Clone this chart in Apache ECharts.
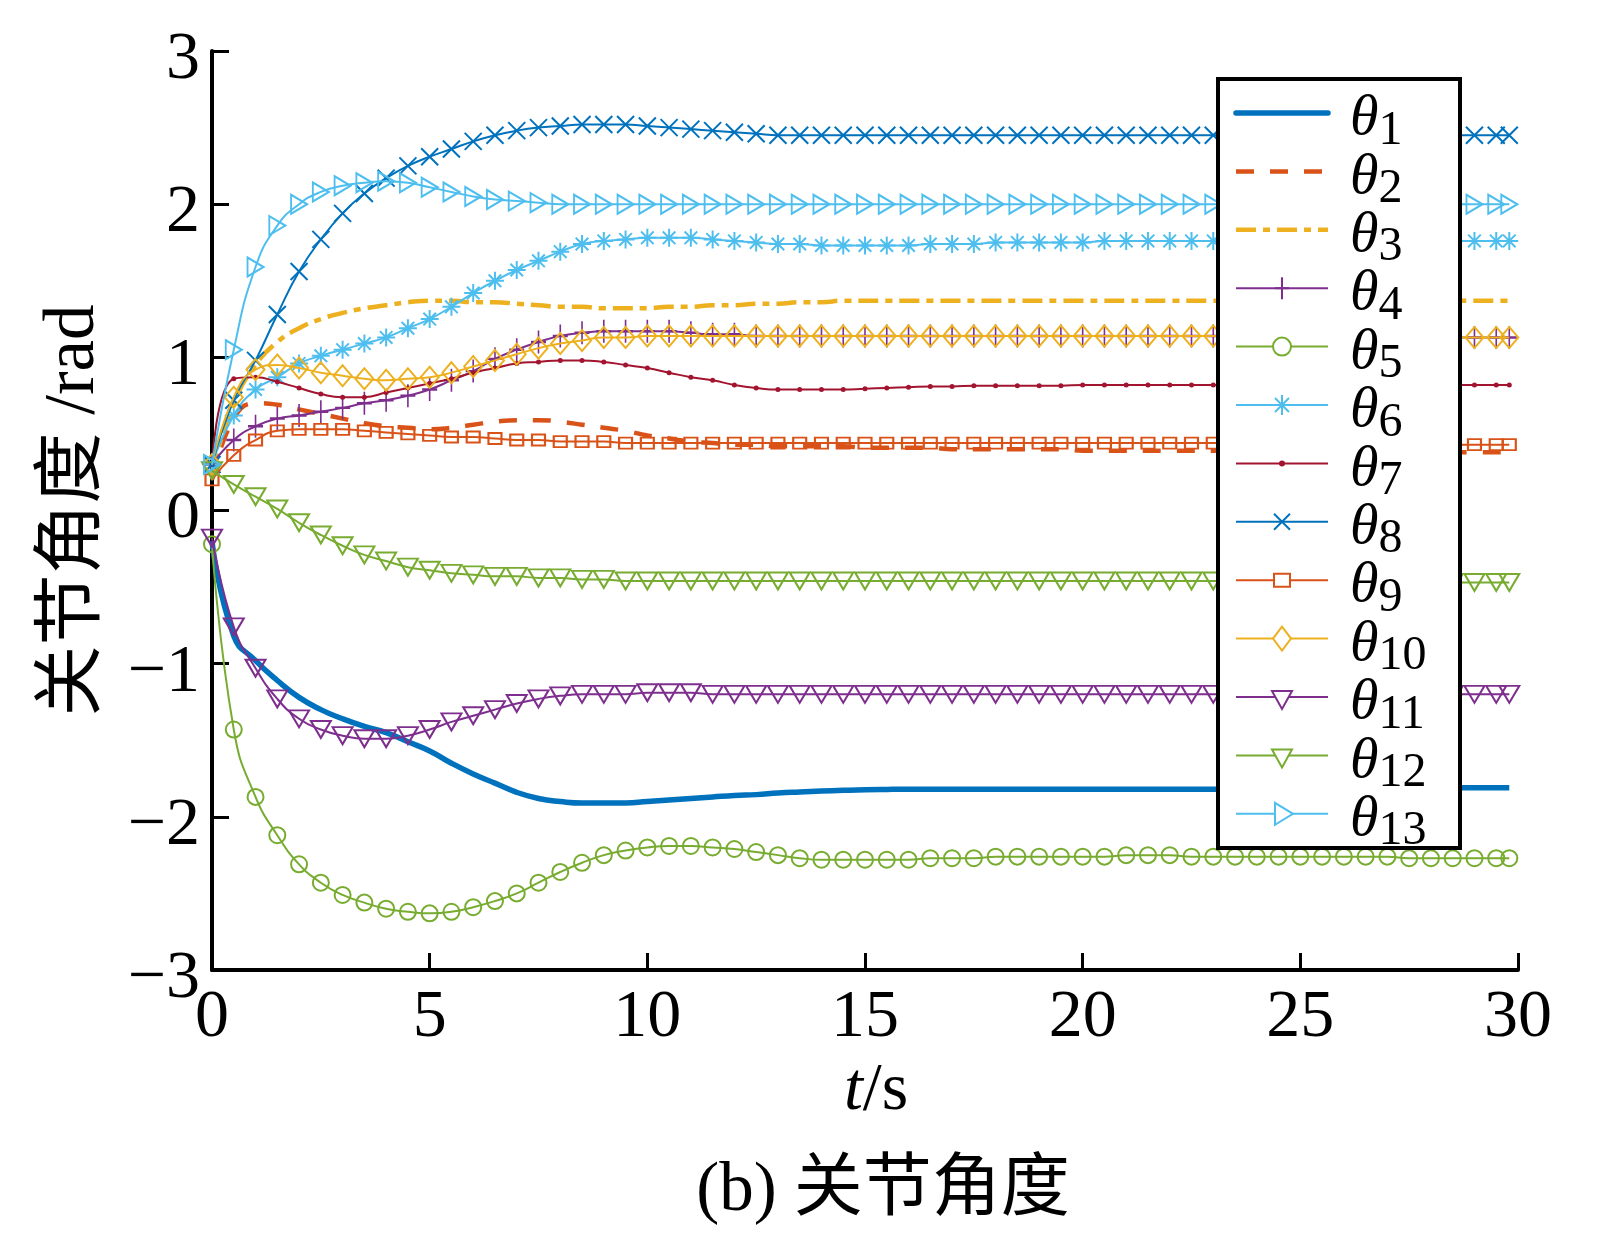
<!DOCTYPE html>
<html>
<head>
<meta charset="utf-8">
<title>关节角度</title>
<script src="https://cdn.jsdelivr.net/npm/echarts@6/dist/echarts.min.js"></script>
<style>
  html, body { margin: 0; padding: 0; background: #fff; }
  #chart { width: 1602px; height: 1236px; }
</style>
</head>
<body>
<div id="chart"></div>
<script>
// --- Data (t in s, angles in rad) ---
const timeS = [
  0, 0.5, 1, 1.5, 2, 2.5, 3, 3.5, 4, 4.5,
  5, 5.5, 6, 6.5, 7, 7.5, 8, 8.5, 9, 9.5,
  10, 10.5, 11, 11.5, 12, 12.5, 13, 13.5, 14, 14.5,
  15, 15.5, 16, 16.5, 17, 17.5, 18, 18.5, 19, 19.5,
  20, 20.5, 21, 21.5, 22, 22.5, 23, 23.5, 24, 24.5,
  25, 25.5, 26, 26.5, 27, 27.5, 28, 28.5, 29, 29.5,
  29.8
];

const theta1 = [
  -0.20, -0.82, -0.98, -1.11, -1.22, -1.30, -1.36, -1.41, -1.45, -1.51,
  -1.57, -1.65, -1.72, -1.78, -1.84, -1.88, -1.90, -1.91, -1.91, -1.91,
  -1.90, -1.89, -1.88, -1.87, -1.86, -1.855, -1.845, -1.838, -1.832, -1.827,
  -1.823, -1.821, -1.82, -1.82, -1.82, -1.82, -1.82, -1.82, -1.82, -1.82,
  -1.82, -1.82, -1.82, -1.82, -1.82, -1.82, -1.82, -1.82, -1.815, -1.815,
  -1.81, -1.81, -1.81, -1.81, -1.81, -1.81, -1.81, -1.81, -1.81, -1.81,
  -1.81
];
const theta2 = [
  0.20, 0.60, 0.70, 0.69, 0.66, 0.63, 0.60, 0.57, 0.55, 0.54,
  0.53, 0.54, 0.56, 0.58, 0.59, 0.59, 0.58, 0.56, 0.54, 0.52,
  0.49, 0.47, 0.45, 0.44, 0.43, 0.43, 0.42, 0.42, 0.42, 0.42,
  0.41, 0.41, 0.41, 0.41, 0.40, 0.40, 0.40, 0.40, 0.40, 0.40,
  0.39, 0.39, 0.39, 0.39, 0.39, 0.39, 0.39, 0.39, 0.39, 0.39,
  0.38, 0.38, 0.38, 0.38, 0.38, 0.38, 0.38, 0.38, 0.38, 0.38,
  0.38
];
const theta3 = [
  0.25, 0.70, 0.95, 1.10, 1.19, 1.25, 1.29, 1.32, 1.34, 1.36,
  1.37, 1.37, 1.36, 1.36, 1.35, 1.34, 1.33, 1.33, 1.32, 1.32,
  1.32, 1.33, 1.33, 1.34, 1.34, 1.35, 1.35, 1.36, 1.36, 1.37,
  1.37, 1.37, 1.37, 1.37, 1.37, 1.37, 1.37, 1.37, 1.37, 1.37,
  1.37, 1.37, 1.37, 1.37, 1.37, 1.37, 1.37, 1.37, 1.37, 1.37,
  1.37, 1.37, 1.37, 1.37, 1.37, 1.37, 1.37, 1.37, 1.37, 1.37,
  1.37
];
const theta4 = [
  0.30, 0.46, 0.55, 0.60, 0.62, 0.645, 0.67, 0.70, 0.72, 0.75,
  0.79, 0.85, 0.91, 0.99, 1.05, 1.10, 1.14, 1.16, 1.17, 1.17,
  1.17, 1.17, 1.16, 1.15, 1.15, 1.14, 1.14, 1.14, 1.14, 1.14,
  1.14, 1.14, 1.14, 1.14, 1.14, 1.14, 1.14, 1.14, 1.14, 1.14,
  1.14, 1.14, 1.14, 1.14, 1.14, 1.14, 1.14, 1.14, 1.14, 1.14,
  1.13, 1.13, 1.13, 1.13, 1.13, 1.13, 1.13, 1.13, 1.13, 1.13,
  1.13
];
const theta5 = [
  -0.22, -1.43, -1.87, -2.12, -2.31, -2.43, -2.51, -2.56, -2.60, -2.62,
  -2.63, -2.62, -2.59, -2.55, -2.50, -2.43, -2.36, -2.30, -2.25, -2.22,
  -2.20, -2.19, -2.19, -2.20, -2.21, -2.23, -2.25, -2.27, -2.28, -2.28,
  -2.28, -2.28, -2.28, -2.27, -2.27, -2.27, -2.26, -2.26, -2.26, -2.26,
  -2.26, -2.26, -2.25, -2.25, -2.25, -2.26, -2.26, -2.26, -2.26, -2.26,
  -2.26, -2.26, -2.26, -2.26, -2.26, -2.27, -2.27, -2.27, -2.27, -2.27,
  -2.27
];
const theta6 = [
  0.30, 0.62, 0.79, 0.87, 0.96, 1.01, 1.05, 1.09, 1.13, 1.19,
  1.25, 1.33, 1.42, 1.50, 1.57, 1.63, 1.69, 1.74, 1.76, 1.77,
  1.78, 1.78, 1.78, 1.77, 1.76, 1.75, 1.74, 1.74, 1.73, 1.73,
  1.73, 1.73, 1.73, 1.74, 1.74, 1.74, 1.75, 1.75, 1.75, 1.75,
  1.75, 1.76, 1.76, 1.76, 1.76, 1.76, 1.76, 1.76, 1.76, 1.76,
  1.76, 1.76, 1.76, 1.76, 1.76, 1.76, 1.76, 1.76, 1.76, 1.76,
  1.76
];
const theta7 = [
  0.30, 0.86, 0.87, 0.84, 0.80, 0.76, 0.74, 0.74, 0.77, 0.80,
  0.83, 0.86, 0.90, 0.93, 0.96, 0.97, 0.98, 0.98, 0.97, 0.95,
  0.93, 0.90, 0.87, 0.85, 0.82, 0.80, 0.79, 0.79, 0.79, 0.79,
  0.795, 0.80, 0.805, 0.81, 0.81, 0.815, 0.815, 0.815, 0.815, 0.815,
  0.82, 0.82, 0.82, 0.82, 0.82, 0.82, 0.82, 0.82, 0.82, 0.82,
  0.82, 0.82, 0.82, 0.82, 0.82, 0.82, 0.82, 0.82, 0.82, 0.82,
  0.82
];
const theta8 = [
  0.30, 0.72, 0.98, 1.28, 1.56, 1.77, 1.94, 2.07, 2.17, 2.25,
  2.31, 2.36, 2.41, 2.45, 2.48, 2.50, 2.51, 2.52, 2.52, 2.52,
  2.51, 2.50, 2.49, 2.48, 2.47, 2.46, 2.45, 2.45, 2.45, 2.45,
  2.45, 2.45, 2.45, 2.45, 2.45, 2.45, 2.45, 2.45, 2.45, 2.45,
  2.45, 2.45, 2.45, 2.45, 2.45, 2.45, 2.45, 2.45, 2.45, 2.45,
  2.45, 2.45, 2.45, 2.45, 2.45, 2.45, 2.45, 2.45, 2.45, 2.45,
  2.45
];
const theta9 = [
  0.20, 0.36, 0.46, 0.52, 0.53, 0.53, 0.53, 0.52, 0.51, 0.50,
  0.49, 0.48, 0.48, 0.47, 0.46, 0.46, 0.45, 0.45, 0.45, 0.44,
  0.44, 0.44, 0.44, 0.44, 0.44, 0.44, 0.44, 0.44, 0.44, 0.44,
  0.44, 0.44, 0.44, 0.44, 0.44, 0.44, 0.44, 0.44, 0.44, 0.44,
  0.44, 0.44, 0.44, 0.44, 0.44, 0.44, 0.44, 0.44, 0.44, 0.44,
  0.43, 0.43, 0.43, 0.43, 0.43, 0.43, 0.43, 0.43, 0.43, 0.43,
  0.43
];
const theta10 = [
  0.30, 0.74, 0.92, 0.95, 0.93, 0.90, 0.88, 0.86, 0.85, 0.86,
  0.87, 0.90, 0.94, 0.98, 1.02, 1.06, 1.09, 1.11, 1.13, 1.13,
  1.14, 1.14, 1.14, 1.14, 1.14, 1.14, 1.14, 1.14, 1.14, 1.14,
  1.14, 1.14, 1.14, 1.14, 1.14, 1.14, 1.14, 1.14, 1.14, 1.14,
  1.14, 1.14, 1.14, 1.14, 1.14, 1.14, 1.14, 1.14, 1.14, 1.14,
  1.13, 1.13, 1.13, 1.13, 1.13, 1.13, 1.13, 1.13, 1.13, 1.13,
  1.13
];
const theta11 = [
  -0.18, -0.76, -1.03, -1.23, -1.36, -1.43, -1.47, -1.49, -1.49, -1.47,
  -1.43, -1.38, -1.34, -1.30, -1.26, -1.23, -1.21, -1.20, -1.20, -1.20,
  -1.19, -1.19, -1.19, -1.20, -1.20, -1.20, -1.20, -1.20, -1.20, -1.20,
  -1.20, -1.20, -1.20, -1.20, -1.20, -1.20, -1.20, -1.20, -1.20, -1.20,
  -1.20, -1.20, -1.20, -1.20, -1.20, -1.20, -1.20, -1.20, -1.20, -1.20,
  -1.20, -1.20, -1.20, -1.20, -1.20, -1.20, -1.20, -1.20, -1.20, -1.20,
  -1.20
];
const theta12 = [
  0.26, 0.17, 0.09, 0.01, -0.08, -0.16, -0.23, -0.29, -0.33, -0.37,
  -0.39, -0.41, -0.42, -0.43, -0.43, -0.44, -0.44, -0.45, -0.45, -0.46,
  -0.46, -0.46, -0.46, -0.46, -0.46, -0.46, -0.46, -0.46, -0.46, -0.46,
  -0.46, -0.46, -0.46, -0.46, -0.46, -0.46, -0.46, -0.46, -0.46, -0.46,
  -0.46, -0.46, -0.46, -0.46, -0.46, -0.46, -0.46, -0.46, -0.46, -0.46,
  -0.47, -0.47, -0.47, -0.47, -0.47, -0.47, -0.47, -0.47, -0.47, -0.47,
  -0.47
];
const theta13 = [
  0.30, 1.05, 1.59, 1.86, 2.00, 2.08, 2.12, 2.14, 2.15, 2.14,
  2.11, 2.08, 2.05, 2.03, 2.02, 2.01, 2.00, 2.00, 2.00, 2.00,
  2.00, 2.00, 2.00, 2.00, 2.00, 2.00, 2.00, 2.00, 2.00, 2.00,
  2.00, 2.00, 2.00, 2.00, 2.00, 2.00, 2.00, 2.00, 2.00, 2.00,
  2.00, 2.00, 2.00, 2.00, 2.00, 2.00, 2.00, 2.00, 2.00, 2.00,
  2.00, 2.00, 2.00, 2.00, 2.00, 2.00, 2.00, 2.00, 2.00, 2.00,
  2.00
];

const yTicks = [-3, -2, -1, 0, 1, 2, 3];
const xTicks = [0, 5, 10, 15, 20, 25, 30];

// --- Styles (MATLAB default palette) ---
const C = {
  blue: '#0072BD', orange: '#D95319', yellow: '#EDB120', purple: '#7E2F8E',
  green: '#77AC30', cyan: '#4DBEEE', red: '#A2142F'
};
const SYM = {
  plus: 'path://M5,0L5,10M0,5L10,5',
  cross: 'path://M0,0L10,10M10,0L0,10',
  star: 'path://M5,0L5,10M0,5L10,5M1.5,1.5L8.5,8.5M8.5,1.5L1.5,8.5',
  triDown: 'path://M0,0L10,0L5,8.66Z',
  triRight: 'path://M0,0L8.66,5L0,10Z'
};

const seriesDefs = [
  { n: 1, data: theta1, color: C.blue, width: 5.5 },
  { n: 2, data: theta2, color: C.orange, width: 4.5, dash: [18, 16] },
  { n: 3, data: theta3, color: C.yellow, width: 4.5, dash: [20, 7, 7, 7] },
  { n: 4, data: theta4, color: C.purple, sym: SYM.plus, size: [15, 23], icon: 'plus' },
  { n: 5, data: theta5, color: C.green, sym: 'circle', size: 16, icon: 'circle' },
  { n: 6, data: theta6, color: C.cyan, sym: SYM.star, size: 18, icon: 'star' },
  { n: 7, data: theta7, color: C.red, sym: 'circle', size: 5, filled: true, icon: 'dot' },
  { n: 8, data: theta8, color: C.blue, sym: SYM.cross, size: 17, icon: 'cross' },
  { n: 9, data: theta9, color: C.orange, sym: 'rect', size: [13, 11], icon: 'square' },
  { n: 10, data: theta10, color: C.yellow, sym: 'diamond', size: [18, 21], icon: 'diamond' },
  { n: 11, data: theta11, color: C.purple, sym: SYM.triDown, size: [20, 17], icon: 'triDown' },
  { n: 12, data: theta12, color: C.green, sym: SYM.triDown, size: [20, 17], icon: 'triDown' },
  { n: 13, data: theta13, color: C.cyan, sym: SYM.triRight, size: [16, 19], icon: 'triRight' }
];

const series = seriesDefs.map(d => {
  const s = {
    name: 'θ' + d.n,
    type: 'line',
    data: timeS.map((t, i) => [t, d.data[i]]),
    smooth: 0.5,
    lineStyle: { color: d.color, width: d.width || 2, type: d.dash || 'solid' },
    emphasis: { disabled: true },
    z: 2 + d.n * 0.01
  };
  if (d.sym) {
    s.symbol = d.sym;
    s.symbolSize = d.size;
    s.showSymbol = true;
    s.itemStyle = d.filled
      ? { color: d.color, borderWidth: 0 }
      : { color: 'transparent', borderColor: d.color, borderWidth: 2 };
  } else {
    s.showSymbol = false;
    s.symbol = 'none';
  }
  return s;
});

// --- Legend box (drawn by hand so each entry shows line + marker) ---
const LEG = { x0: 1218, y0: 79, x1: 1460, y1: 848, first: 113, step: 58.4, lx0: 1236, lx1: 1328, tx: 1350 };

function iconShapes(kind, color, cx, cy) {
  const st = { stroke: color, lineWidth: 2, fill: 'none' };
  const ln = (x1, y1, x2, y2) => ({ type: 'line', shape: { x1, y1, x2, y2 }, style: st, z: 102 });
  switch (kind) {
    case 'plus': return [ln(cx, cy - 11, cx, cy + 11), ln(cx - 7, cy, cx + 7, cy)];
    case 'circle': return [{ type: 'circle', shape: { cx, cy, r: 9 }, style: { stroke: color, lineWidth: 2, fill: '#fff' }, z: 102 }];
    case 'star': return [ln(cx, cy - 10, cx, cy + 10), ln(cx - 9, cy, cx + 9, cy), ln(cx - 7, cy - 7, cx + 7, cy + 7), ln(cx + 7, cy - 7, cx - 7, cy + 7)];
    case 'dot': return [{ type: 'circle', shape: { cx, cy, r: 3 }, style: { fill: color }, z: 102 }];
    case 'cross': return [ln(cx - 8, cy - 8, cx + 8, cy + 8), ln(cx + 8, cy - 8, cx - 8, cy + 8)];
    case 'square': return [{ type: 'rect', shape: { x: cx - 8, y: cy - 6.5, width: 16, height: 13 }, style: { stroke: color, lineWidth: 2, fill: '#fff' }, z: 102 }];
    case 'diamond': return [{ type: 'polygon', shape: { points: [[cx, cy - 12], [cx + 9, cy], [cx, cy + 12], [cx - 9, cy]] }, style: { stroke: color, lineWidth: 2, fill: '#fff' }, z: 102 }];
    case 'triDown': return [{ type: 'polygon', shape: { points: [[cx - 10, cy - 6], [cx + 10, cy - 6], [cx, cy + 12]] }, style: { stroke: color, lineWidth: 2, fill: '#fff' }, z: 102 }];
    case 'triRight': return [{ type: 'polygon', shape: { points: [[cx - 7, cy - 11], [cx + 11, cy], [cx - 7, cy + 11]] }, style: { stroke: color, lineWidth: 2, fill: '#fff' }, z: 102 }];
    default: return [];
  }
}

const legendEls = [{
  type: 'rect',
  shape: { x: LEG.x0, y: LEG.y0, width: LEG.x1 - LEG.x0, height: LEG.y1 - LEG.y0 },
  style: { fill: '#fff', stroke: '#000', lineWidth: 4 },
  z: 100
}];
seriesDefs.forEach((d, i) => {
  const cy = LEG.first + LEG.step * i;
  const cx = (LEG.lx0 + LEG.lx1) / 2;
  legendEls.push({
    type: 'line',
    shape: { x1: LEG.lx0, y1: cy, x2: LEG.lx1, y2: cy },
    style: { stroke: d.color, lineWidth: d.width || 2, lineDash: d.dash || null, lineCap: d.n === 1 ? 'round' : 'butt' },
    z: 101
  });
  iconShapes(d.icon, d.color, cx, cy).forEach(e => legendEls.push(e));
  legendEls.push({
    type: 'text',
    x: LEG.tx,
    y: cy + 6,
    z: 103,
    style: {
      text: '{a|θ}{b|' + d.n + '}',
      verticalAlign: 'middle',
      align: 'left',
      fill: '#000',
      rich: {
        a: { fontFamily: 'Liberation Serif', fontStyle: 'italic', fontSize: 58, fill: '#000' },
        b: { fontFamily: 'Liberation Serif', fontSize: 48, fill: '#000', padding: [24, 0, 0, 0] }
      }
    }
  });
});

const serifCJK = "'Liberation Serif', 'Noto Sans CJK SC', serif";

const chart = echarts.init(document.getElementById('chart'), null, { renderer: 'canvas' });
chart.setOption({
  animation: false,
  backgroundColor: '#fff',
  title: {
    text: '(b) 关节角度',
    left: 878,
    top: 1152,
    textAlign: 'center',
    textStyle: { fontFamily: serifCJK, fontSize: 69, fontWeight: 'normal', color: '#000' }
  },
  grid: { left: 212, right: 84, top: 51, bottom: 266, containLabel: false },
  xAxis: {
    type: 'value',
    min: xTicks[0],
    max: xTicks[xTicks.length - 1],
    interval: 5,
    name: '{i|t}/s',
    nameLocation: 'middle',
    nameGap: 82,
    nameTextStyle: {
      fontFamily: 'Liberation Serif', fontSize: 68, color: '#000',
      padding: [0, 0, 0, 22],
      rich: { i: { fontFamily: 'Liberation Serif', fontStyle: 'italic', fontSize: 68, color: '#000' } }
    },
    axisLine: { show: true, onZero: false, lineStyle: { color: '#000', width: 4 } },
    axisTick: { show: true, inside: true, length: 17, lineStyle: { color: '#000', width: 3 } },
    axisLabel: { fontFamily: 'Liberation Serif', fontSize: 68, color: '#000', margin: 14 },
    splitLine: { show: false }
  },
  yAxis: {
    type: 'value',
    min: yTicks[0],
    max: yTicks[yTicks.length - 1],
    interval: 1,
    name: '关节角度 /rad',
    nameLocation: 'middle',
    nameGap: 102,
    nameTextStyle: { fontFamily: serifCJK, fontSize: 71, color: '#000' },
    axisLine: { show: true, onZero: false, lineStyle: { color: '#000', width: 4 } },
    axisTick: { show: true, inside: true, length: 17, lineStyle: { color: '#000', width: 3 } },
    axisLabel: {
      fontFamily: 'Liberation Serif', fontSize: 68, color: '#000', margin: 12,
      verticalAlign: 'top',
      lineHeight: 18,
      formatter: v => (v < 0 ? '\u2212' + Math.abs(v) : String(v))
    },
    splitLine: { show: false }
  },
  series: series,
  graphic: { elements: legendEls }
});
</script>
</body>
</html>
